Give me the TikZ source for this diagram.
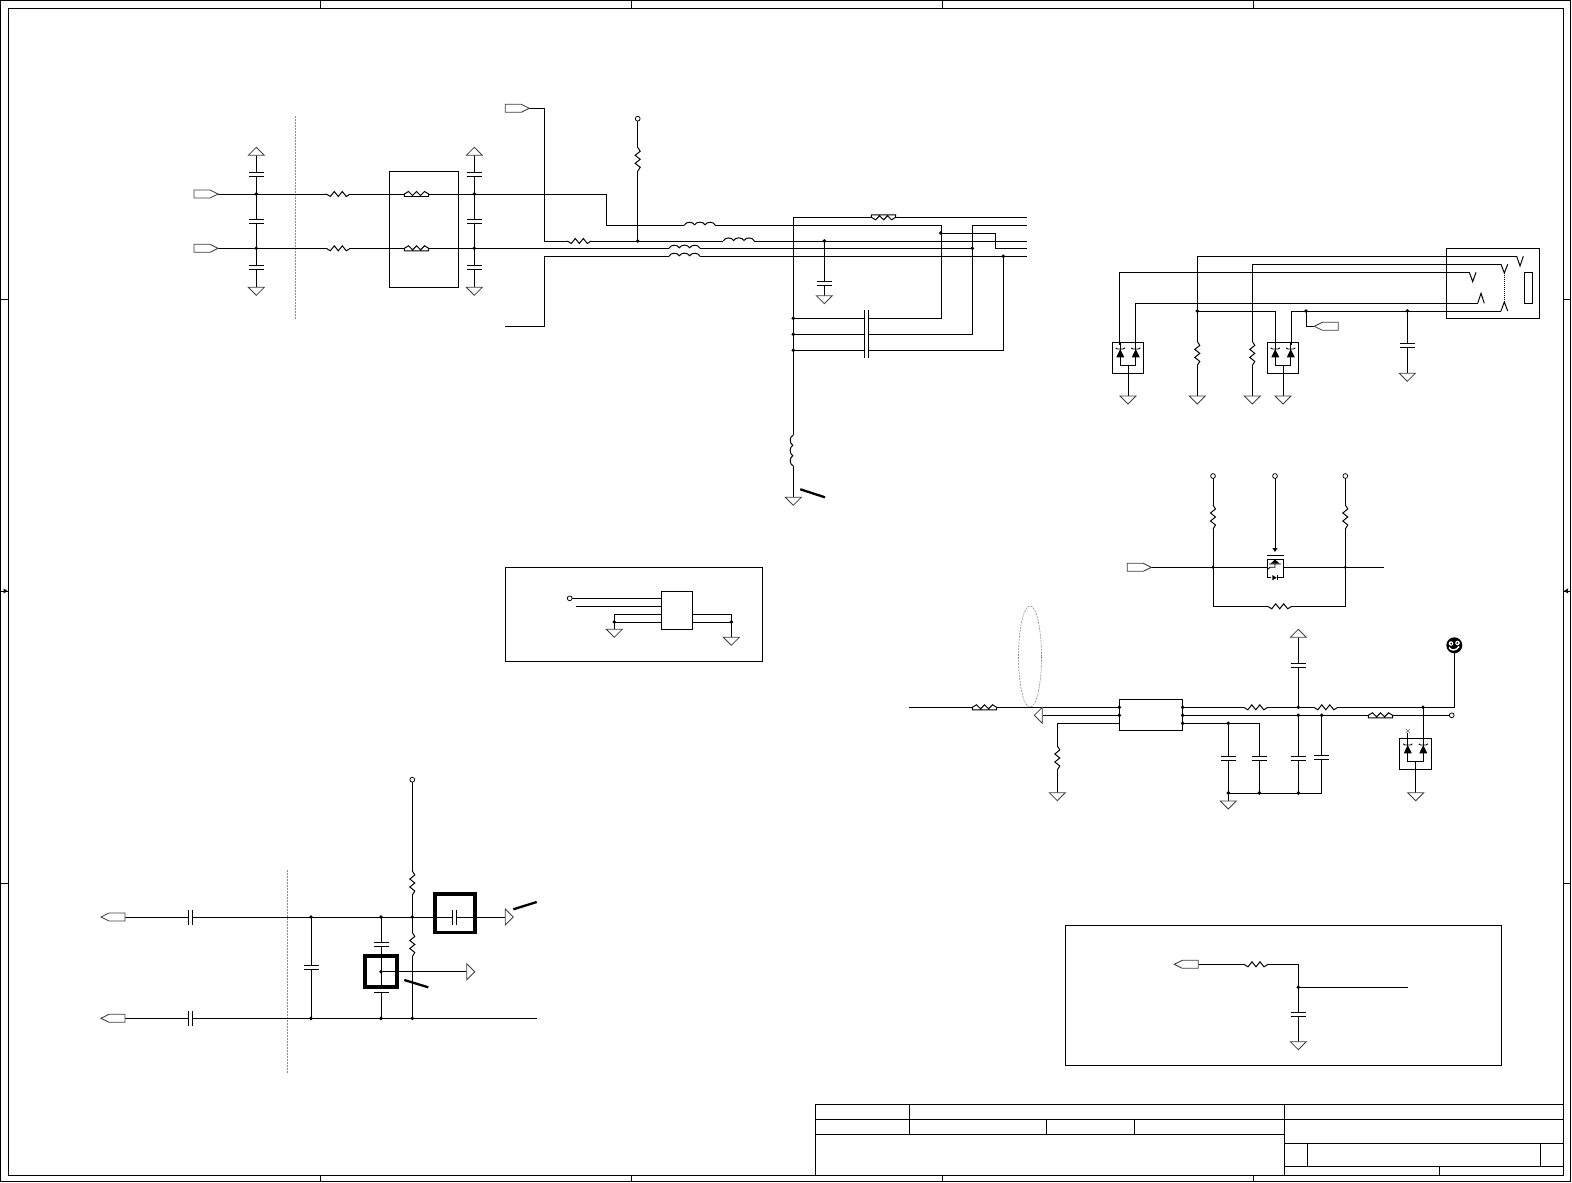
\documentclass[tikz,border=0pt]{standalone}
\tikzset{
  wire/.style={line width=.98pt},
  thickbox/.style={line width=3.1pt},
  slash/.style={line width=2.3pt},
  guide/.style={line width=.6pt,black!45,dash pattern=on 2pt off 1pt},
  symb/.style={line width=.85pt,black!75},
  dot/.style={circle,fill=black,inner sep=0pt,minimum size=3.9pt},
  opencirc/.style={circle,draw=black,fill=white,line width=.75pt,inner sep=0pt,minimum size=4.8pt},
  res/.pic={\fill[white](-11.7,-1.5)rectangle(11.7,1.5);
    \draw[wire](-12,0)--(-8,2.5)--(-4,-2.5)--(0,2.5)--(4,-2.5)--(8,2.5)--(12,0);},
  ind/.pic={\fill[white](-15.5,-.8)rectangle(15.5,.8);
    \draw[wire](-15.5,0)..controls(-14,-4)and(-7,-4)..(-5.2,-.5)..controls(-3.5,-4)and(3.5,-4)..(5.2,-.5)..controls(7,-4)and(14,-4)..(15.5,0);},
  fer/.pic={\fill[white](-12.2,-3)rectangle(12.2,3);
    \draw[wire](-12.2,0)--(-12.2,2.5)--(12.2,2.5)--(12.2,0)--(8,-2.5)--(4,1.5)--(0,-2.5)--(-4,1.5)--(-8,-2.5)--cycle;},
  cap/.pic={\fill[white](-7.5,-2)rectangle(7.5,2);
    \draw[wire](-7.5,-2)--(7.5,-2)(-7.5,2)--(7.5,2);},
  gnd/.pic={\draw[symb,fill=white](-8,0)--(8,0)--(0,8)--cycle;},
  port/.pic={\draw[symb,fill=white](0,0)--(-8,-4)--(-24,-4)--(-24,4)--(-8,4)--cycle;},
  zen/.pic={\fill[black](-4,8.3)--(4,8.3)--(0,0)--cycle;
    \draw[line width=.9pt](-4.5,-1.2)--(-3,0)--(3,0)--(4.5,-1.2);},
  dpair/.pic={\draw[wire](-15.7,-15.5)rectangle(15.7,15.5);
    \draw[wire](-7.75,-15.5)--(-7.75,8)--(7.75,8)--(7.75,-15.5)(0,8)--(0,15.5);
    \path(-7.75,-8.8)pic{zen}(7.75,-8.8)pic{zen};}
}
\begin{document}
\begin{tikzpicture}[x=1pt,y=-1pt,wire]
\useasboundingbox (0,0) rectangle (1572,1183);

% ---------- sheet frame
\draw[wire] (.8,.8) rectangle (1570.8,1181.8);
\draw[wire] (8.6,8.6) rectangle (1563,1175);
\foreach \x in {320,631,942,1253}{
  \draw[line width=.7pt] (\x,.8)--(\x,8.6) (\x,1175)--(\x,1181.8);}
\foreach \y in {299,883}{
  \draw[line width=.7pt] (.8,\y)--(8.6,\y) (1563,\y)--(1570.8,\y);}
\draw[line width=.7pt] (.8,591)--(8.6,591) (1563,591)--(1570.8,591);
\fill (3.5,588.5)--(7.5,591)--(3.5,593.5)--cycle;
\fill (1568,588.5)--(1564,591)--(1568,593.5)--cycle;

% ---------- title block
\draw[wire] (815,1175)--(815,1104.3)--(1563,1104.3)
  (815,1119.3)--(1563,1119.3) (815,1134.3)--(1284,1134.3)
  (1284,1143.3)--(1563,1143.3) (1284,1166.3)--(1563,1166.3)
  (909.4,1104.3)--(909.4,1134.3) (1046.5,1119.3)--(1046.5,1134.3)
  (1134.5,1119.3)--(1134.5,1134.3) (1284,1104.3)--(1284,1175)
  (1307,1143.3)--(1307,1166.3) (1540,1143.3)--(1540,1166.3)
  (1439,1166.3)--(1439,1175);

% ---------- guides
\draw[guide] (295.7,116)--(295.7,319);
\draw[guide] (287.3,870)--(287.3,1074);
\draw[guide] (1030,656.6) ellipse [x radius=11.5,y radius=50.7];

% ---------- top-left block
\coordinate (pa) at (218,194);
\coordinate (pb) at (218,248.3);
\coordinate (pc) at (529.3,108.3);
\coordinate (ja1) at (256.3,194);
\coordinate (ja2) at (256.3,248.3);
\coordinate (jb1) at (474.3,194);
\coordinate (jb2) at (474.3,248.3);
\coordinate (ta) at (256.3,155.3);
\coordinate (ga) at (256.3,287.3);
\coordinate (tb) at (474.3,155.3);
\coordinate (gb) at (474.3,287.3);
\coordinate (bend1) at (606.7,225.3);
\coordinate (bend2) at (544.7,241);
\coordinate (jr) at (637.7,241);
\coordinate (vcc1) at (637.7,118.7);
\coordinate (right1) at (1026.7,241);
\coordinate (jc) at (972.3,248.3);
\coordinate (low1) at (505.3,326);
\coordinate (low2) at (544.7,256.3);
\coordinate (right2) at (1026.7,256.3);
\coordinate (rail) at (793.3,217.3);
\coordinate (right0) at (1026.7,217.3);
\coordinate (right3) at (1026.7,225.3);
\coordinate (right4) at (1026.7,248.3);
\coordinate (g1) at (793.3,497.3);
\coordinate (j1) at (793.3,318.3);
\coordinate (j2) at (793.3,334.3);
\coordinate (j3) at (793.3,350.3);
\coordinate (k1) at (941.3,318.3);
\coordinate (k2) at (972.3,334.3);
\coordinate (k3) at (1003.3,350.3);
\coordinate (m1) at (940.7,233);
\coordinate (m2) at (995.3,248.3);
\coordinate (m3) at (1003.3,256.3);
\coordinate (m4) at (824.3,241);
\coordinate (g2) at (824.3,295.7);

\draw (ta)--(ga) (tb)--(gb);
\draw (pa)--(606.7,194)--(bend1)-|(k1)--(j1);
\draw (pb)--(jc);
\draw (pc)-|(bend2)--(right1);
\draw (low1)-|(low2)--(right2);
\draw (jr)--(vcc1);
\draw (right0)--(rail)--(g1);
\draw (right3)-|(k2)--(j2);
\draw (m3)--(k3)--(j3);
\draw (m1)-|(m2)--(right4);
\draw (m4)--(g2);
\draw (389.3,171.3) rectangle (458.3,287.3);

\foreach \x in {256.3,474.3}{
  \pic at (\x,174.3) {cap};
  \pic at (\x,221.3) {cap};
  \pic at (\x,267.7) {cap};
}
\pic at (ta) [rotate=180] {gnd};
\pic at (tb) [rotate=180] {gnd};
\pic at (ga) {gnd};
\pic at (gb) {gnd};
\pic at (g1) {gnd};
\pic at (g2) {gnd};
\pic at (pa) {port};
\pic at (pb) {port};
\pic at (pc) {port};
\pic at (338.3,194) {res};
\pic at (338.3,248.3) {res};
\pic at (579.3,241) {res};
\pic[rotate=90] at (637.7,159.3) {res};
\pic at (416.5,194) {fer};
\pic at (416.5,248.3) {fer};
\pic[yscale=-1] at (883.5,217.3) {fer};
\pic at (699.8,225.3) {ind};
\pic at (738.8,241) {ind};
\pic at (684.5,248.3) {ind};
\pic at (684.5,256.3) {ind};
\pic[rotate=90] at (793.3,450.5) {ind};
\pic at (824.3,283) {cap};
\foreach \y in {318.3,334.3,350.3}{
  \fill[white] (864.7,\y-1) rectangle (868.7,\y+1);
  \draw (864.7,\y-8)--(864.7,\y+7.4) (868.7,\y-8)--(868.7,\y+7.4);
}
\foreach \c in {ja1,ja2,jb1,jb2,jr,j1,j2,j3,m1,jc,m3,m4}{\node[dot] at (\c) {};}
\node[opencirc] at (vcc1) {};
\draw[slash] (800.3,489.3)--(825,497.3);

% ---------- connector block (top right)
\coordinate (d1a) at (1119.7,272.3);
\coordinate (d1b) at (1135,303.3);
\coordinate (j4) at (1197.3,311);
\coordinate (j5) at (1306,311);
\coordinate (j6) at (1407.3,311);
\coordinate (d2a) at (1275.3,311);
\coordinate (d2b) at (1291.3,311);
\coordinate (c1) at (1501,311);
\coordinate (c2) at (1477.7,303.3);
\coordinate (c3) at (1469.3,272.3);
\coordinate (c4) at (1516.7,256.3);
\coordinate (c5) at (1501,264.3);
\coordinate (t1) at (1197.3,256.3);
\coordinate (t2) at (1252.3,264.3);
\coordinate (g3) at (1128,396);
\coordinate (g4) at (1197.3,396);
\coordinate (g5) at (1252.3,396);
\coordinate (g6) at (1283,396);
\coordinate (g7) at (1407.3,373.3);
\coordinate (ptip) at (1314.3,326.3);
\draw (1446.3,248.3) rectangle (1539.3,318.7);
\draw (1524.7,272.7) rectangle (1532.7,303.3);
\draw (c4)--(t1)--(g4);
\draw (c5)--(t2)--(g5);
\draw (c3)-|(d1a)--(1119.7,345);
\draw (c2)-|(d1b)--(1135,345);
\draw (j4)-|(d2a)--(1275.3,345);
\draw (c1)-|(d2b)--(1291.3,345);
\draw (j5)|-(ptip);
\draw (j6)--(g7);
\draw (1128,370)--(g3) (1283,370)--(g6);
\draw (c4)--(1520,266)--(1523.3,256.3);
\draw (c5)--(1504.3,273)--(1507.7,264.3);
\draw (c3)--(1472.7,281.7)--(1476,272.3);
\draw (c2)--(1481,293.3)--(1484.3,303.3);
\draw (c1)--(1504.3,302)--(1507.7,311);
\draw[line width=.8pt,dash pattern=on 1.2pt off .8pt] (1504.3,273)--(1504.3,302);
\pic at (1128,357.8) {dpair};
\pic at (1283,357.8) {dpair};
\pic[rotate=90] at (1197.3,353.4) {res};
\pic[rotate=90] at (1252.3,353.4) {res};
\pic at (1407.3,345.8) {cap};
\pic at (g3) {gnd};
\pic at (g4) {gnd};
\pic at (g5) {gnd};
\pic at (g6) {gnd};
\pic at (g7) {gnd};
\pic[rotate=180] at (ptip) {port};
\foreach \c in {j4,j5,j6}{\node[dot] at (\c) {};}

% ---------- transistor block
\coordinate (p5) at (1151.3,567.3);
\coordinate (j7) at (1213,567.3);
\coordinate (j8) at (1345.3,567.3);
\coordinate (v1) at (1213,476);
\coordinate (v2) at (1275,476);
\coordinate (v3) at (1345.3,476);
\coordinate (e5) at (1384.3,567.3);
\coordinate (gt) at (1275,550);
\draw (p5)--(e5);
\draw (v1)--(j7)--(1213,606.3)-|(j8)--(v3);
\draw (v2)--(gt);
\fill (1272.5,548)--(1277.5,548)--(1275,552)--cycle;
\draw (1267,555)--(1283.7,555);
\draw[fill=white] (1267,559.3) rectangle (1283.7,577.7);
\fill (1275,559.3)--(1270.5,563.7)--(1279.5,563.7)--cycle;
\draw[line width=.8pt] (1269,563.9)--(1281,563.9) (1275,563.9)--(1275,567.3)--(1270,567.3)--(1267,570);
\fill[white] (1271,576.9) rectangle (1278,578.6);
\fill (1272.3,575)--(1272.3,580.3)--(1276.7,577.7)--cycle;
\draw[line width=.8pt] (1277.3,575)--(1277.3,580.3);
\pic at (p5) {port};
\pic[rotate=90] at (1213,517) {res};
\pic[rotate=90] at (1345.3,517) {res};
\pic at (1279.7,606.3) {res};
\foreach \c in {j7,j8}{\node[dot,minimum size=3.2pt] at (\c) {};}
\foreach \c in {v1,v2,v3}{\node[opencirc] at (\c) {};}

% ---------- small box (middle)
\coordinate (u1) at (661.3,598.3);
\coordinate (u2) at (661.3,606.3);
\coordinate (u3) at (661.3,614.3);
\coordinate (u4) at (661.3,622);
\coordinate (u5) at (692.3,614.3);
\coordinate (u6) at (692.3,622);
\coordinate (s1) at (569.7,598.3);
\coordinate (s2) at (575.7,606.3);
\coordinate (s3) at (614.3,622);
\coordinate (s4) at (731.3,622);
\coordinate (g8) at (614.3,629.3);
\coordinate (g9) at (731.3,637.3);
\draw (505.7,567.3) rectangle (762.7,661);
\draw (661.3,591) rectangle (692.3,629.3);
\draw (s1)--(u1) (s2)--(u2) (u4)--(s3);
\draw (u3)-|(g8);
\draw (u6)--(s4) (u5)-|(g9);
\pic at (g8) {gnd};
\pic at (g9) {gnd};
\node[dot] at (s3) {};
\node[dot] at (s4) {};
\node[opencirc] at (s1) {};

% ---------- IC block (middle right)
\coordinate (w1) at (909.3,707.3);
\coordinate (i1) at (1119.3,707.3);
\coordinate (i2) at (1119.3,715.3);
\coordinate (i3) at (1119.3,723.3);
\coordinate (o1) at (1182.7,707.3);
\coordinate (o2) at (1182.7,715.3);
\coordinate (o3) at (1182.7,723.3);
\coordinate (tri) at (1042.3,715.3);
\coordinate (bl) at (1057.3,723.3);
\coordinate (g10) at (1057.3,792.7);
\coordinate (n1) at (1228.3,723.3);
\coordinate (n2) at (1259.3,723.3);
\coordinate (n3) at (1298.3,715.3);
\coordinate (n4) at (1321.7,715.3);
\coordinate (n5) at (1298.3,707.3);
\coordinate (n6) at (1423,707.3);
\coordinate (b1) at (1228.3,793);
\coordinate (b2) at (1259.3,793);
\coordinate (b3) at (1298.3,793);
\coordinate (b4) at (1321.7,793);
\coordinate (g11) at (1228.3,801);
\coordinate (up1) at (1298.3,637.3);
\coordinate (face) at (1454.3,645.3);
\coordinate (endc) at (1451.7,715.3);
\coordinate (g12) at (1415.7,792.7);
\draw (1119.3,699.3) rectangle (1182.7,730.3);
\draw (w1)--(i1);
\draw (tri)--(i2);
\draw (i3)-|(g10);
\draw (o1)-|(face);
\draw (o2)--(endc);
\draw (o3)--(n2)--(b2);
\draw (n1)--(g11);
\draw (n3)--(b3);
\draw (n4)--(b4)--(b1);
\draw (n5)--(up1);
\draw (n6)--(1423,740);
\draw (1415.7,765)--(g12);
\pic at (984.5,707.3) {fer};
\pic[rotate=90] at (1057.3,758) {res};
\pic at (g10) {gnd};
\pic[rotate=-90] at (tri) {gnd};
\draw[line width=1.1pt,black!55] (1042.3,707.3)--(1042.3,723.3);
\pic at (1255.8,707.3) {res};
\pic at (1325.8,707.3) {res};
\pic at (1380.5,715.3) {fer};
\pic at (1228.3,758.7) {cap};
\pic at (1259.3,758.7) {cap};
\pic at (1298.3,758.7) {cap};
\pic at (1321.7,757) {cap};
\pic at (1298.3,665.3) {cap};
\pic[rotate=180] at (up1) {gnd};
\pic at (g11) {gnd};
\pic at (g12) {gnd};
\pic at (1415.5,753.8) {dpair};
\draw[line width=.5pt,black!60] (1405.7,729)--(1409.7,733) (1409.7,729)--(1405.7,733);
\draw[line width=.7pt] (1407.75,733)--(1407.75,738.3);
\foreach \c in {i1,i2,o1,o2,o3,n1,n3,n4,n5,n6,b1,b2,b3}{\node[dot] at (\c) {};}
\node[opencirc] at (endc) {};
\fill (face) circle (8);
\fill[white] (1451,643.5) circle (2.3);
\fill[white] (1457.5,643) circle (2.3);
\fill (1451.3,643.6) circle (.9);
\fill (1457.2,643.1) circle (.9);
\draw[white,line width=1.4pt] (1449,647.5)..controls(1451,651)and(1456,651)..(1459,646.5);

% ---------- bottom-left block
\coordinate (p6) at (101,917);
\coordinate (p7) at (101,1018.3);
\coordinate (q1) at (311,917);
\coordinate (q2) at (381,917);
\coordinate (q3) at (412.3,917);
\coordinate (q4) at (311,1018.3);
\coordinate (q5) at (381,1018.3);
\coordinate (q6) at (412.3,1018.3);
\coordinate (tr1) at (505.3,917);
\coordinate (e7) at (536.7,1018.3);
\coordinate (vcc) at (412.3,779.7);
\coordinate (q7) at (381,971.7);
\coordinate (tr2) at (466.7,971.7);
\draw (p6)--(tr1);
\draw (p7)--(e7);
\draw (q1)--(q4) (q2)--(q5) (vcc)--(q6);
\draw (q7)--(tr2);
\draw[thickbox] (435,894) rectangle (475,932.7);
\draw[thickbox] (365,956) rectangle (397,987);
\pic[rotate=90] at (454.3,917) {cap};
\pic[rotate=90] at (190.7,917) {cap};
\pic[rotate=90] at (190.7,1018.3) {cap};
\pic at (311,967.7) {cap};
\pic at (381,944.3) {cap};
\pic at (381,990.3) {cap};
\pic[rotate=90] at (412.3,883) {res};
\pic[rotate=90] at (412.3,944.5) {res};
\pic[rotate=180] at (p6) {port};
\pic[rotate=180] at (p7) {port};
\pic[rotate=90] at (tr1) {gnd};
\pic[rotate=90] at (tr2) {gnd};
\foreach \c in {q1,q2,q3,q4,q5,q6,q7}{\node[dot] at (\c) {};}
\node[opencirc] at (vcc) {};
\draw[slash] (513.3,909.3)--(536.7,902);
\draw[slash] (404.3,980)--(428.3,987.3);

% ---------- bottom-right box
\coordinate (p8) at (1174.3,964.3);
\coordinate (r1) at (1298.3,964.3);
\coordinate (r2) at (1298.3,987.3);
\coordinate (r3) at (1407.7,987.3);
\coordinate (g13) at (1298.3,1041.7);
\draw (1065,925.8) rectangle (1501.5,1065.2);
\draw (p8)--(r1)--(g13);
\draw (r2)--(r3);
\pic[rotate=180] at (p8) {port};
\pic at (1256,964.3) {res};
\pic at (1298.3,1014.2) {cap};
\pic at (g13) {gnd};
\node[dot] at (r2) {};
\end{tikzpicture}
\end{document}
